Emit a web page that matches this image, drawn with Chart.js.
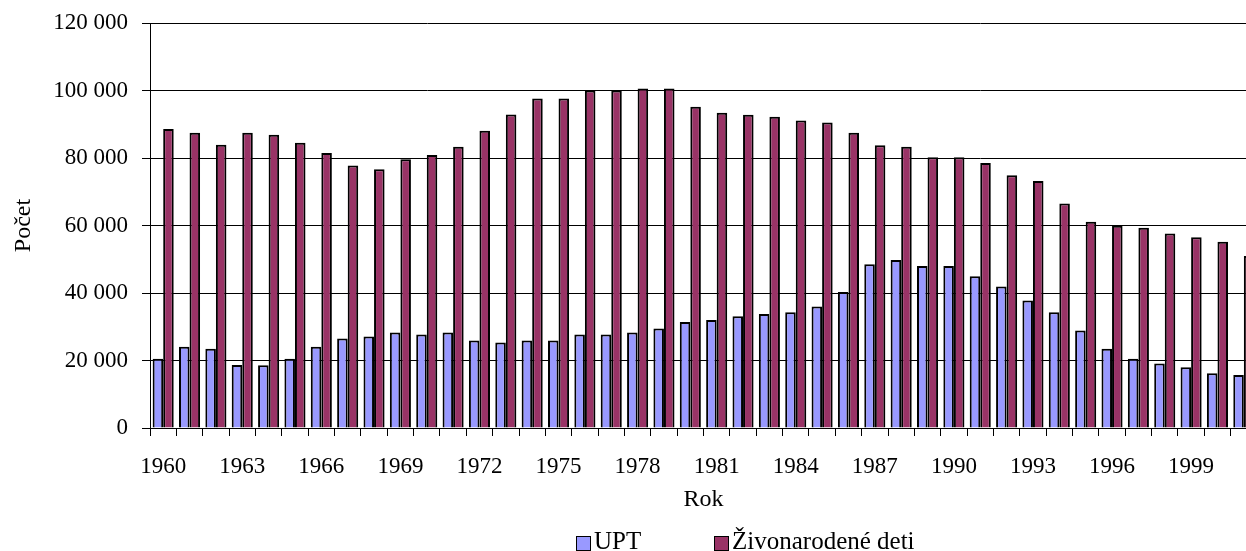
<!DOCTYPE html>
<html>
<head>
<meta charset="utf-8">
<script src="https://cdn.jsdelivr.net/npm/chart.js@4.4.1/dist/chart.umd.min.js"></script>
<style>
    html, body { margin: 0; padding: 0; background: #fff; overflow: hidden; }
    #wrap { position: relative; width: 1260px; height: 551px; }
    .legend { position: absolute; top: 528px; font: 25px 'Liberation Serif', serif; line-height: 25px; color: #000; white-space: nowrap; }
    .sw { position: absolute; top: 536px; width: 13px; height: 13px; border: 1.5px solid #000; }
</style>
</head>
<body>
<div id="wrap">
    <canvas id="chart"></canvas>
    <div class="sw" style="left:576px;background:#9999ff"></div>
    <div class="legend" style="left:594px">UPT</div>
    <div class="sw" style="left:714px;background:#993366"></div>
    <div class="legend" style="left:732px">Živonarodené deti</div>
</div>
<script>
// roky 1960 - 2001
const years = [];
for (let y = 1960; y <= 2001; y++) years.push(String(y));

// UPT (v tisícoch)
const upt = [
    20.5, 24.1, 23.5, 18.7, 18.6, 20.5, 24.1, 26.5, 27.1, 28.3, 27.7, 28.3, 25.9, 25.3,
    25.9, 25.9, 27.7, 27.7, 28.3, 29.5, 31.4, 32.0, 33.1, 33.8, 34.3, 36.0, 40.3, 48.5,
    49.8, 48.0, 48.0, 45.0, 41.9, 37.8, 34.3, 28.9, 23.5, 20.5, 19.1, 18.0, 16.2, 15.7
];

// živonarodené deti (v tisícoch)
const zivo = [
    88.6, 87.5, 83.9, 87.5, 86.9, 84.5, 81.5, 77.8, 76.7, 79.6, 80.9, 83.3, 88.1, 92.9,
    97.6, 97.6, 100.0, 100.0, 100.6, 100.6, 95.2, 93.4, 92.8, 92.2, 91.1, 90.5, 87.5, 83.8,
    83.3, 80.2, 80.2, 78.5, 74.9, 73.2, 66.5, 61.1, 59.9, 59.3, 57.6, 56.5, 55.2, 51.0
];

const yTicks = [0, 20000, 40000, 60000, 80000, 100000, 120000];

const FONT = 'Liberation Serif';
const fmt = v => String(v).replace(/\B(?=(\d{3})+(?!\d))/g, ' ');

new Chart(document.getElementById('chart'), {
    type: 'bar',
    data: {
        labels: years,
        datasets: [
            {
                label: 'UPT',
                data: upt.map(v => v * 1000),
                backgroundColor: '#9999ff',
                borderColor: '#000',
                borderWidth: 2,
            },
            {
                label: 'Živonarodené deti',
                data: zivo.map(v => v * 1000),
                backgroundColor: '#993366',
                borderColor: '#000',
                borderWidth: 2,
            }
        ]
    },
    options: {
        responsive: true,
        maintainAspectRatio: false,
        animation: false,
        datasets: { bar: { barPercentage: 1, categoryPercentage: 0.8 } },
        layout: { padding: { left: 0, right: 3, top: 23, bottom: 37 } },
        plugins: { legend: { display: false }, tooltip: { enabled: false } },
        scales: {
            x: {
                grid: { drawOnChartArea: false, tickLength: 8, color: '#000', offset: true },
                border: { color: '#000', width: 1 },
                ticks: {
                    autoSkip: false, maxRotation: 0, padding: 17, color: '#000',
                    font: { family: FONT, size: 23 },
                    callback: (v, i) => (i % 3 === 0 ? years[i] : '')
                },
                title: { display: true, text: 'Rok', color: '#000', font: { family: FONT, size: 24 }, padding: 0 },
                afterFit: s => { s.height = 86; s.paddingLeft = 0; s.paddingRight = 0; }
            },
            y: {
                min: 0, max: 120000,
                afterBuildTicks: s => { s.ticks = yTicks.map(v => ({ value: v })); },
                grid: { color: '#000', lineWidth: 1, tickLength: 8 },
                border: { color: '#000', width: 1 },
                ticks: { padding: 14, color: '#000', font: { family: FONT, size: 23 }, callback: v => fmt(v) },
                title: { display: true, text: 'Počet', color: '#000', font: { family: FONT, size: 24 }, padding: { top: 9, bottom: 0 } },
                afterFit: s => { s.width = 150; s.paddingTop = 0; s.paddingBottom = 0; }
            }
        }
    }
});
</script>
</body>
</html>
